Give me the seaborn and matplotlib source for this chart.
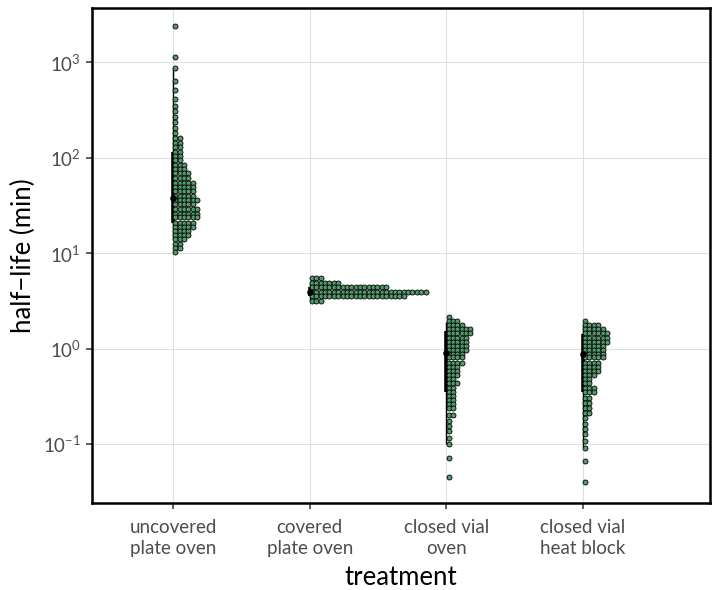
import numpy as np
import pandas as pd
import seaborn as sns
import matplotlib.pyplot as plt

# categories
treatments = ["uncovered\nplate oven", "covered\nplate oven",
              "closed vial\noven", "closed vial\nheat block"]

# dotplot bins: half-life (min) at each bin and number of stacked dots
uncovered_vals = [2440, 1130, 865, 632, 509, 410, 346, 307, 266, 235, 204, 181,
                  160, 144, 129, 116, 105, 94, 85, 76, 69, 62, 55, 50, 45, 40,
                  36, 33, 29, 26, 24, 21, 19, 17.3, 15.5, 14.0, 12.5, 11.3, 10.2]
uncovered_counts = [1, 1, 1, 1, 1, 1, 1, 1, 1, 1, 1, 1,
                    2, 2, 2, 2, 2, 2, 3, 3, 4, 4, 5, 5, 5, 5,
                    6, 5, 6, 6, 6, 5, 5, 4, 4, 3, 2, 2, 1]

covered_vals = [5.47, 4.91, 4.41, 3.96, 3.55, 3.19]
covered_counts = [3, 7, 18, 27, 22, 3]

vial_oven_vals = [2.16, 1.96, 1.78, 1.62, 1.47, 1.30, 1.18, 1.07, 0.98, 0.89,
                  0.81, 0.71, 0.65, 0.59, 0.53, 0.485, 0.44, 0.39, 0.355, 0.32,
                  0.29, 0.265, 0.24, 0.204, 0.176, 0.156, 0.138, 0.117, 0.101,
                  0.072, 0.045]
vial_oven_counts = [1, 3, 4, 6, 6, 5, 5, 5, 5, 4, 4, 4, 3, 3, 3, 2, 3, 2, 2, 2,
                    2, 2, 2, 2, 1, 1, 1, 1, 1, 1, 1]

heat_block_vals = [1.96, 1.78, 1.62, 1.47, 1.30, 1.18, 1.07, 0.98, 0.89, 0.81,
                   0.71, 0.65, 0.59, 0.53, 0.485, 0.44, 0.39, 0.355, 0.307, 0.272,
                   0.24, 0.214, 0.189, 0.164, 0.145, 0.129, 0.109, 0.090, 0.067,
                   0.040]
heat_block_counts = [1, 4, 5, 6, 6, 6, 5, 5, 5, 5, 4, 4, 4, 3, 2, 2, 3, 3, 2, 2,
                     2, 2, 1, 1, 1, 1, 1, 1, 1, 1]

# summary: median, inner range, outer range
medians = [37.7, 3.95, 0.91, 0.89]
inner_lo = [20.6, 3.55, 0.35, 0.35]
inner_hi = [114, 4.4, 1.54, 1.44]
outer_lo = [14.0, 3.19, 0.10, 0.094]
outer_hi = [865, 5.0, 1.9, 1.8]

# build dot table (dots stacked to the right of each category)
dot_w = 0.032
rows = []
groups = [(uncovered_vals, uncovered_counts), (covered_vals, covered_counts),
          (vial_oven_vals, vial_oven_counts), (heat_block_vals, heat_block_counts)]
for i, (vals, counts) in enumerate(groups):
    for v, n in zip(vals, counts):
        for k in range(n):
            rows.append({"x": i + (k + 0.5) * dot_w, "y": v})
df = pd.DataFrame(rows)

sns.set_theme(style="whitegrid")
plt.rcParams['font.family'] = ['Lato', 'DejaVu Sans']

fig = plt.figure(figsize=(7.2, 5.9), dpi=100)
ax = fig.add_axes([0.128, 0.147, 0.858, 0.839])

ax.vlines(range(4), outer_lo, outer_hi, color="black", lw=1.0, zorder=2)
ax.vlines(range(4), inner_lo, inner_hi, color="black", lw=2.6, zorder=2)
ax.scatter(range(4), medians, s=14, color="black", zorder=4)

sns.scatterplot(data=df, x="x", y="y", ax=ax, s=13, color="#549a6c",
                edgecolor="black", linewidth=0.6, zorder=3, legend=False)

ax.set_yscale("log")
ax.set_ylim(0.024, 3700)
ax.set_xlim(-0.593, 3.93)
ax.set_xticks(range(4))
ax.set_xticklabels(treatments, linespacing=1.3)
ax.minorticks_off()
ax.yaxis.set_minor_locator(plt.NullLocator())

ax.grid(True, color="#e0e0e0", lw=0.8)
ax.set_axisbelow(True)
for s in ax.spines.values():
    s.set_color("black")
    s.set_linewidth(1.8)

ax.tick_params(axis="both", length=4, width=1.1, color="#333333",
               labelcolor="#4d4d4d", labelsize=13.5, pad=4, bottom=True, left=True)
ax.tick_params(axis="x", pad=7)
ax.set_xlabel("treatment", fontsize=18.5, color="black", labelpad=6)
ax.set_ylabel("half\u2212life (min)", fontsize=18.5, color="black", labelpad=5)

fig.savefig("out.png", dpi=100)
